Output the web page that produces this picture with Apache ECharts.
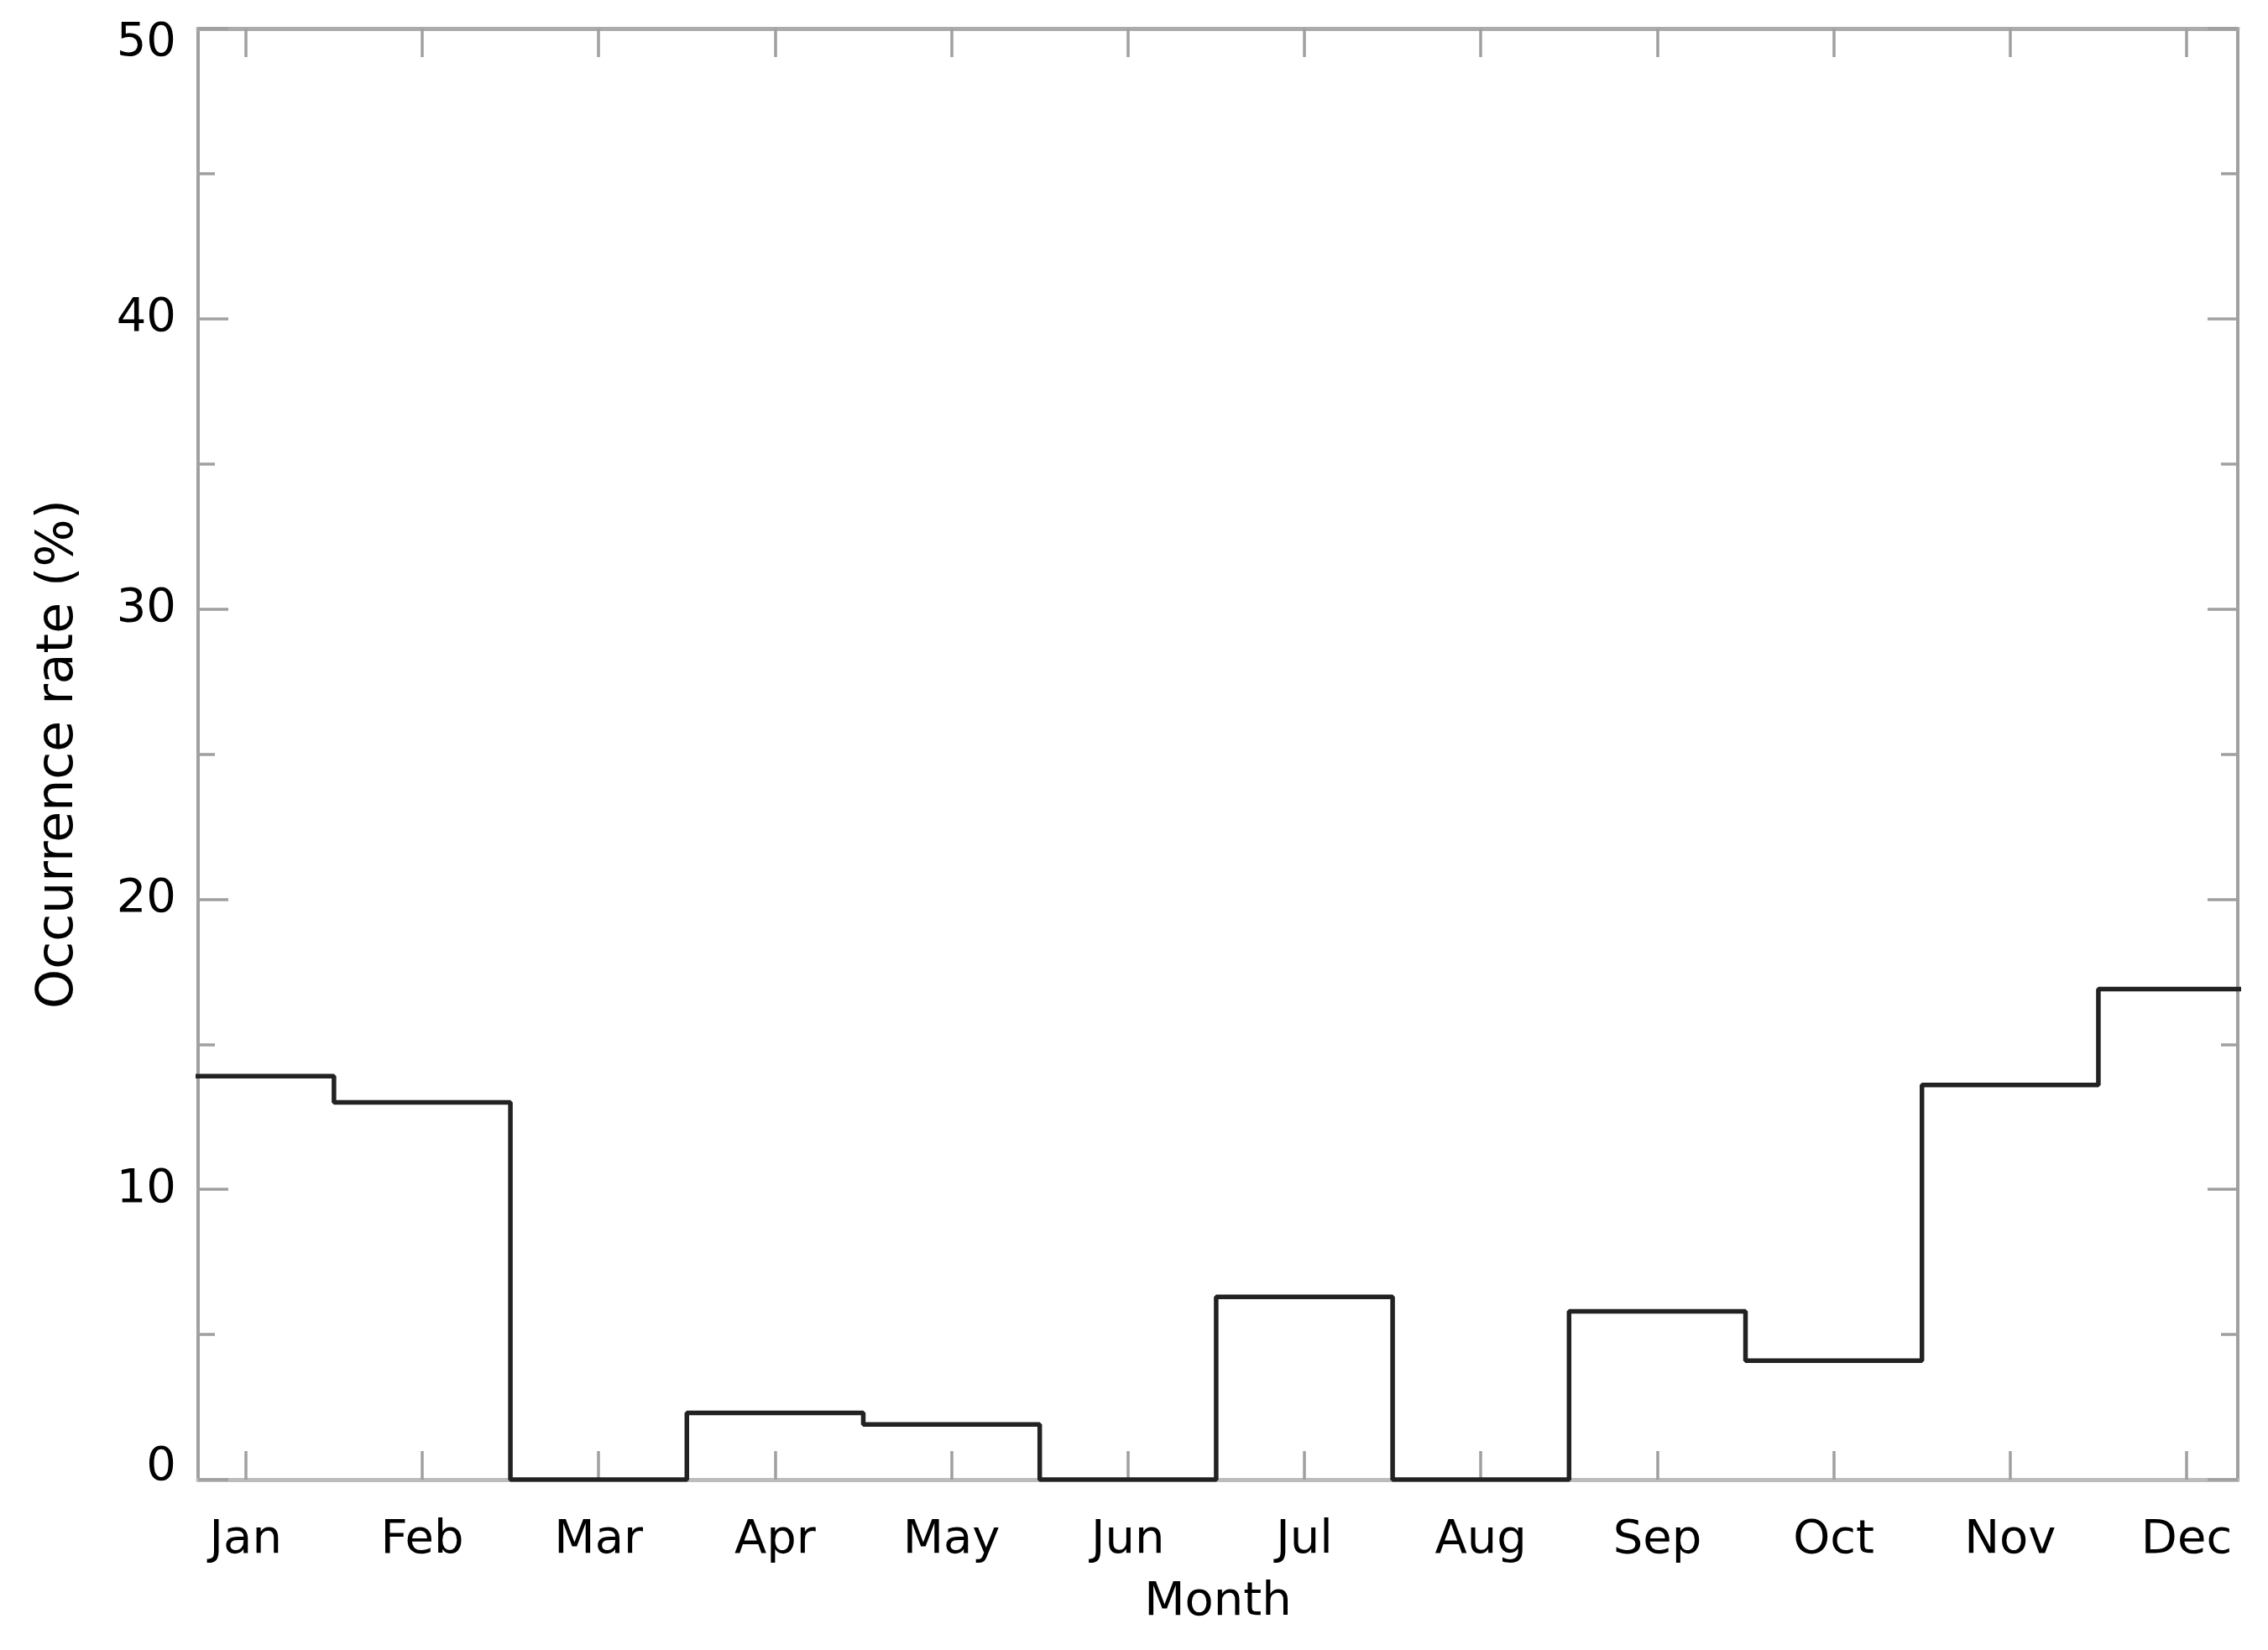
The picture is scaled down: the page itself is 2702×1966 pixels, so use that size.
<!DOCTYPE html>
<html>
<head>
<meta charset="utf-8">
<script src="https://cdn.jsdelivr.net/npm/echarts@6/dist/echarts.min.js"></script>
<style>
  html, body { margin: 0; padding: 0; background: #fff; }
  #chart { width: 2702px; height: 1966px; }
</style>
</head>
<body>
<div id="chart"></div>
<script>
// month labels and monthly occurrence rate (%)
var months = ['Jan', 'Feb', 'Mar', 'Apr', 'May', 'Jun', 'Jul', 'Aug', 'Sep', 'Oct', 'Nov', 'Dec'];
var monthPos = [1, 2, 3, 4, 5, 6, 7, 8, 9, 10, 11, 12];
var rate = [13.9, 13.0, 0, 2.3, 1.9, 0, 6.3, 0, 5.8, 4.1, 13.6, 16.9];
var yTicks = [0, 10, 20, 30, 40, 50];

// histogram outline: each month spans half a month either side of its tick
var stepData = [];
monthPos.forEach(function (m, i) {
  stepData.push([m - 0.5, rate[i]]);
  stepData.push([m + 0.5, rate[i]]);
});

var axisGrey = '#a0a0a0';
var font = 'DejaVu Sans';

var chart = echarts.init(document.getElementById('chart'));

function xAxisCfg(pos, showLabel) {
  return {
    type: 'value',
    position: pos,
    min: 0.73,
    max: 12.29,
    splitLine: { show: false },
    axisLine: { onZero: false, lineStyle: { color: pos === 'bottom' ? '#bcbcbc' : '#ababab', width: 5 } },
    axisTick: { inside: true, length: 34, customValues: monthPos, lineStyle: { color: axisGrey, width: 3.5 } },
    axisLabel: {
      show: showLabel,
      customValues: monthPos,
      margin: 44,
      color: '#000',
      fontFamily: font,
      fontSize: 56,
      formatter: function (v) { return months[Math.round(v) - 1]; }
    },
    name: showLabel ? 'Month' : '',
    nameLocation: 'middle',
    nameGap: 118,
    nameTextStyle: { color: '#000', fontFamily: font, fontSize: 56 }
  };
}

function yAxisCfg(pos, showLabel) {
  return {
    type: 'value',
    position: pos,
    min: 0,
    max: 50,
    interval: 10,
    splitLine: { show: false },
    axisLine: { show: true, lineStyle: { color: axisGrey, width: 4 } },
    axisTick: { show: true, inside: true, length: 36, lineStyle: { color: axisGrey, width: 3.5 } },
    minorTick: { show: true, splitNumber: 2, length: 20, lineStyle: { color: axisGrey, width: 3.5 } },
    axisLabel: {
      show: showLabel,
      margin: 26,
      color: '#000',
      fontFamily: font,
      fontSize: 56,
      formatter: function (v) {
        if (v === 50) return '{lo|50}';
        if (v === 0) return '{hi|0}';
        return yTicks.indexOf(v) >= 0 ? String(v) : '';
      },
      rich: {
        lo: { fontFamily: font, fontSize: 56, color: '#000', padding: [34, 0, 0, 0] },
        hi: { fontFamily: font, fontSize: 56, color: '#000', padding: [0, 0, 30, 0] }
      }
    },
    name: showLabel ? 'Occurrence rate (%)' : '',
    nameLocation: 'middle',
    nameGap: 136,
    nameTextStyle: { color: '#000', fontFamily: font, fontSize: 60 }
  };
}

chart.setOption({
  animation: false,
  backgroundColor: '#fff',
  grid: { left: 236, right: 36, top: 34, bottom: 203 },
  xAxis: [xAxisCfg('bottom', true), xAxisCfg('top', false)],
  yAxis: [yAxisCfg('left', true), yAxisCfg('right', false)],
  series: [{
    type: 'line',
    xAxisIndex: 0,
    yAxisIndex: 0,
    data: stepData,
    showSymbol: false,
    clip: true,
    lineStyle: { color: '#222', width: 5.5 }
  }]
});
</script>
</body>
</html>
